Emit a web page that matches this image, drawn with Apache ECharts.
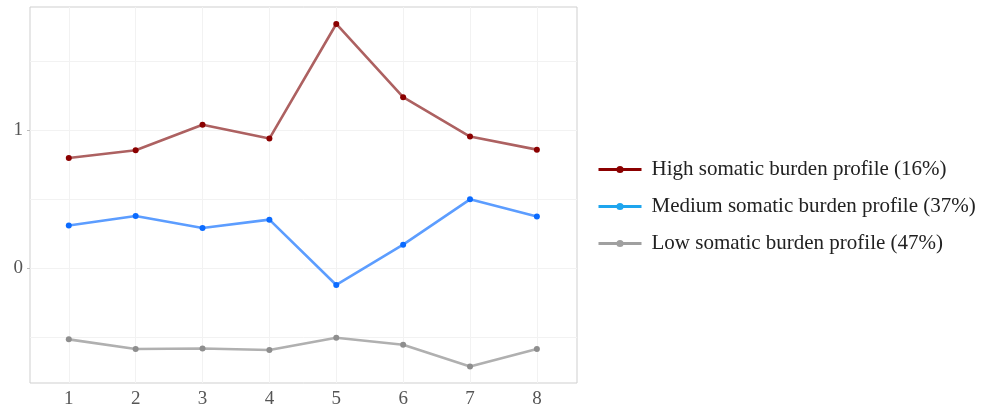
<!DOCTYPE html>
<html>
<head>
<meta charset="utf-8">
<script src="https://cdn.jsdelivr.net/npm/echarts@6/dist/echarts.min.js"></script>
<style>html,body{margin:0;padding:0;background:#fff;}#c{width:989px;height:411px;}</style>
</head>
<body>
<div id="c"></div>
<script>
const categories = [1, 2, 3, 4, 5, 6, 7, 8];
const seriesNames = ['High somatic burden profile (16%)', 'Medium somatic burden profile (37%)', 'Low somatic burden profile (47%)'];
const highValues = [0.80, 0.855, 1.04, 0.94, 1.77, 1.24, 0.955, 0.86];
const mediumValues = [0.31, 0.38, 0.293, 0.353, -0.12, 0.172, 0.50, 0.375];
const lowValues = [-0.514, -0.584, -0.58, -0.591, -0.502, -0.553, -0.71, -0.584];
const yLabelValues = [0, 1];
const yGridValues = [-0.5, 0, 0.5, 1, 1.5];

const chart = echarts.init(document.getElementById('c'));
const serif = '"Liberation Serif", "DejaVu Serif", serif';

function mk(name, vals, lineColor, pointColor) {
  return {
    name: name,
    type: 'line',
    data: categories.map((c, i) => [c, vals[i]]),
    symbol: 'circle',
    symbolSize: 6,
    lineStyle: { color: lineColor, width: 2.6 },
    itemStyle: { color: pointColor },
    z: 5,
    animation: false
  };
}

const gridSeries = {
  name: '_grid',
  type: 'line',
  data: [],
  silent: true,
  z: 1,
  markLine: {
    silent: true,
    symbol: 'none',
    label: { show: false },
    lineStyle: { color: '#f2f2f2', width: 1, type: 'solid' },
    animation: false,
    data: yGridValues.map(v => ({ yAxis: v })).concat(categories.map(c => ({ xAxis: c })))
  }
};

chart.setOption({
  animation: false,
  backgroundColor: '#fff',
  grid: { left: 30, right: 412, top: 7, bottom: 28, show: true, borderColor: '#cfcfcf', borderWidth: 1, backgroundColor: 'transparent' },
  xAxis: {
    type: 'value', min: 0.42, max: 8.6,
    axisLine: { show: false },
    splitLine: { show: false },
    axisTick: { show: true, customValues: categories, length: 3, lineStyle: { color: '#bbb' } },
    axisLabel: { customValues: categories, color: '#555', fontFamily: serif, fontSize: 19, margin: 7 }
  },
  yAxis: {
    type: 'value', min: -0.83, max: 1.893,
    axisLine: { show: false },
    splitLine: { show: false },
    axisTick: { show: true, customValues: yLabelValues, length: 3, lineStyle: { color: '#bbb' } },
    axisLabel: { customValues: yLabelValues, color: '#555', fontFamily: serif, fontSize: 19, margin: 7 }
  },
  legend: {
    orient: 'vertical',
    left: 592,
    top: 154,
    itemWidth: 43,
    itemHeight: 9,
    itemGap: 16,
    textStyle: { fontFamily: serif, fontSize: 21, color: '#222', padding: [0, 0, 0, 5] },
    data: [
      { name: seriesNames[0], itemStyle: { color: '#8b0000' }, lineStyle: { color: '#8b0000', width: 3 } },
      { name: seriesNames[1], itemStyle: { color: '#1ea5ee' }, lineStyle: { color: '#1ea5ee', width: 3 } },
      { name: seriesNames[2], itemStyle: { color: '#a0a0a0' }, lineStyle: { color: '#a0a0a0', width: 3 } }
    ]
  },
  series: [
    gridSeries,
    mk(seriesNames[0], highValues, '#ad6161', '#8b0000'),
    mk(seriesNames[1], mediumValues, '#5c9dff', '#0b6bff'),
    mk(seriesNames[2], lowValues, '#b0b0b0', '#8e8e8e')
  ]
});
</script>
</body>
</html>
